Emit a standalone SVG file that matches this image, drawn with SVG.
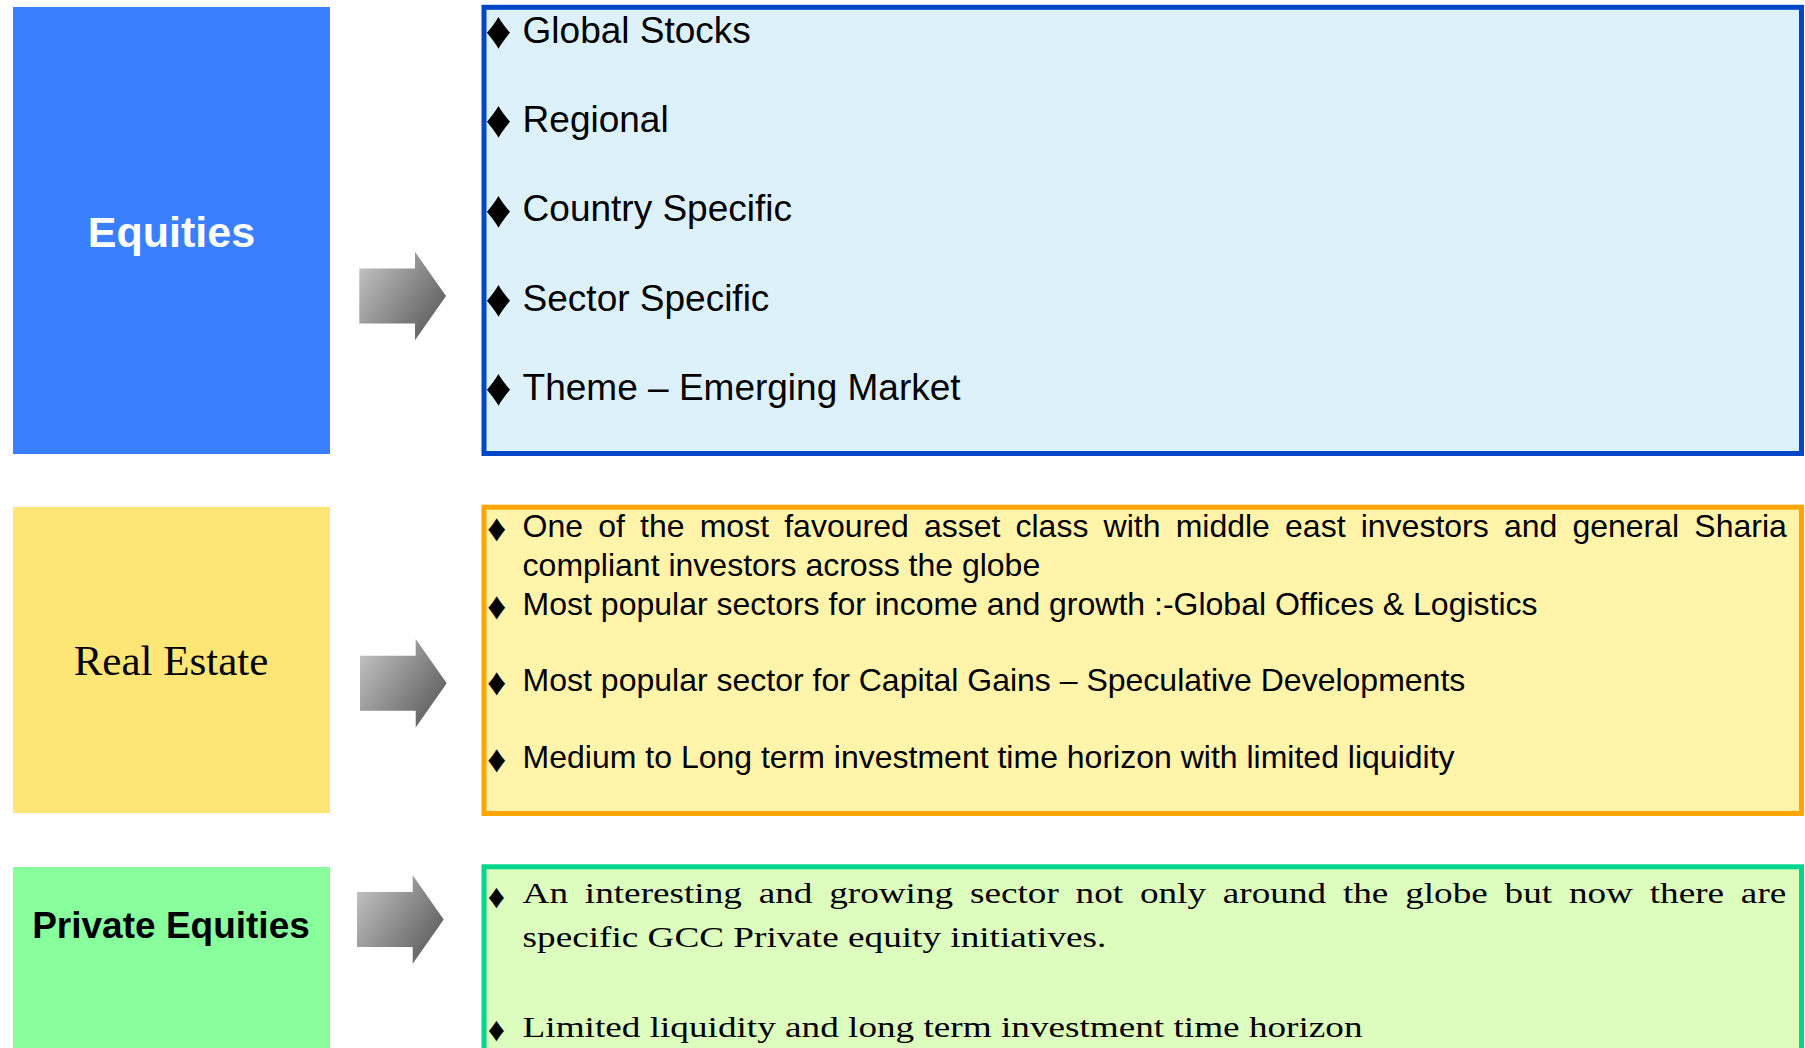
<svg xmlns="http://www.w3.org/2000/svg" width="1805" height="1048" viewBox="0 0 1805 1048">
<style>
.sans{font-family:"Liberation Sans",Arial,sans-serif;fill:#000}
.serif{font-family:"Liberation Serif","Times New Roman",serif;fill:#000}
.blt{font-family:"Liberation Sans","DejaVu Sans",sans-serif;fill:#000;text-anchor:middle}
.d1{font-size:52px}
.d2{font-size:38px}
.d3{font-size:34px}
.b1{font-size:37px}
.b2{font-size:32px}
</style>
<defs>
<linearGradient id="ag" x1="0" y1="0.15" x2="1" y2="0.85">
<stop offset="0" stop-color="#c2c2c2"/>
<stop offset="0.5" stop-color="#8c8c8c"/>
<stop offset="1" stop-color="#585858"/>
</linearGradient>
<path id="arrow" d="M0,-27.5 H55.7 V-44.2 L86.7,0 L55.7,44.2 V27.5 H0 Z" fill="url(#ag)"/>
</defs>
<rect width="1805" height="1048" fill="#ffffff"/>

<g id="equities">
<rect x="13" y="7" width="317" height="447" fill="#3a80fe"/>
<text x="171.5" y="246.5" text-anchor="middle" font-family="Liberation Sans,Arial,sans-serif" font-weight="bold" font-size="43" fill="#ffffff">Equities</text>
</g>

<g id="equities-list">
<rect x="484" y="7.3" width="1317.5" height="446.2" fill="#ddf1fa" stroke="#0047c8" stroke-width="5"/>
<text class="blt d1" x="498.5" y="48">♦</text>
<text class="sans b1" x="522.6" y="42.5">Global Stocks</text>
<text class="blt d1" x="498.5" y="137">♦</text>
<text class="sans b1" x="522.6" y="131.5">Regional</text>
<text class="blt d1" x="498.5" y="226.5">♦</text>
<text class="sans b1" x="522.6" y="221">Country Specific</text>
<text class="blt d1" x="498.5" y="316">♦</text>
<text class="sans b1" x="522.6" y="310.5">Sector Specific</text>
<text class="blt d1" x="498.5" y="405">♦</text>
<text class="sans b1" x="522.6" y="399.5">Theme – Emerging Market</text>
</g>

<g id="real-estate">
<rect x="13" y="507" width="317" height="306" fill="#fde576"/>
<text x="171" y="675" text-anchor="middle" font-family="Liberation Serif,Times New Roman,serif" font-size="43" fill="#000">Real Estate</text>
</g>

<g id="real-estate-list">
<rect x="484" y="507.2" width="1317.5" height="306.3" fill="#fff4aa" stroke="#ffa500" stroke-width="5"/>
<text class="blt d2" x="496.7" y="541">♦</text>
<text class="sans b2" x="522.6" y="537" word-spacing="6.26">One of the most favoured asset class with middle east investors and general Sharia</text>
<text class="sans b2" x="522.6" y="575.5">compliant investors across the globe</text>
<text class="blt d2" x="496.7" y="618.5">♦</text>
<text class="sans b2" x="522.6" y="614.5">Most popular sectors for income and growth :-Global Offices &amp; Logistics</text>
<text class="blt d2" x="496.7" y="695">♦</text>
<text class="sans b2" x="522.6" y="691">Most popular sector for Capital Gains – Speculative Developments</text>
<text class="blt d2" x="496.7" y="772">♦</text>
<text class="sans b2" x="522.6" y="768">Medium to Long term investment time horizon with limited liquidity</text>
</g>

<g id="private-equities">
<rect x="13" y="867" width="317" height="200" fill="#88fe9c"/>
<text x="171" y="938.3" text-anchor="middle" font-family="Liberation Sans,Arial,sans-serif" font-weight="bold" font-size="37" fill="#000">Private Equities</text>
</g>

<g id="private-equities-list">
<rect x="484" y="866.8" width="1317.5" height="200" fill="#dcfdbd" stroke="#00d68c" stroke-width="5"/>
<text class="blt d3" x="496.5" y="908">♦</text>
<text class="serif" transform="translate(522.6 903.3) scale(1.228 1)" font-size="30.3" word-spacing="6.1">An interesting and growing sector not only around the globe but now there are</text>
<text class="serif" transform="translate(522.6 947.3) scale(1.228 1)" font-size="30.3">specific GCC Private equity initiatives.</text>
<text class="blt d3" x="496.5" y="1040.5">♦</text>
<text class="serif" transform="translate(522.6 1036.7) scale(1.228 1)" font-size="30.3">Limited liquidity and long term investment time horizon</text>
</g>

<g id="connectors">
<use href="#arrow" transform="translate(359.3 296)"/>
<use href="#arrow" transform="translate(360 683.3)"/>
<use href="#arrow" transform="translate(357 919.5)"/>
</g>
</svg>
